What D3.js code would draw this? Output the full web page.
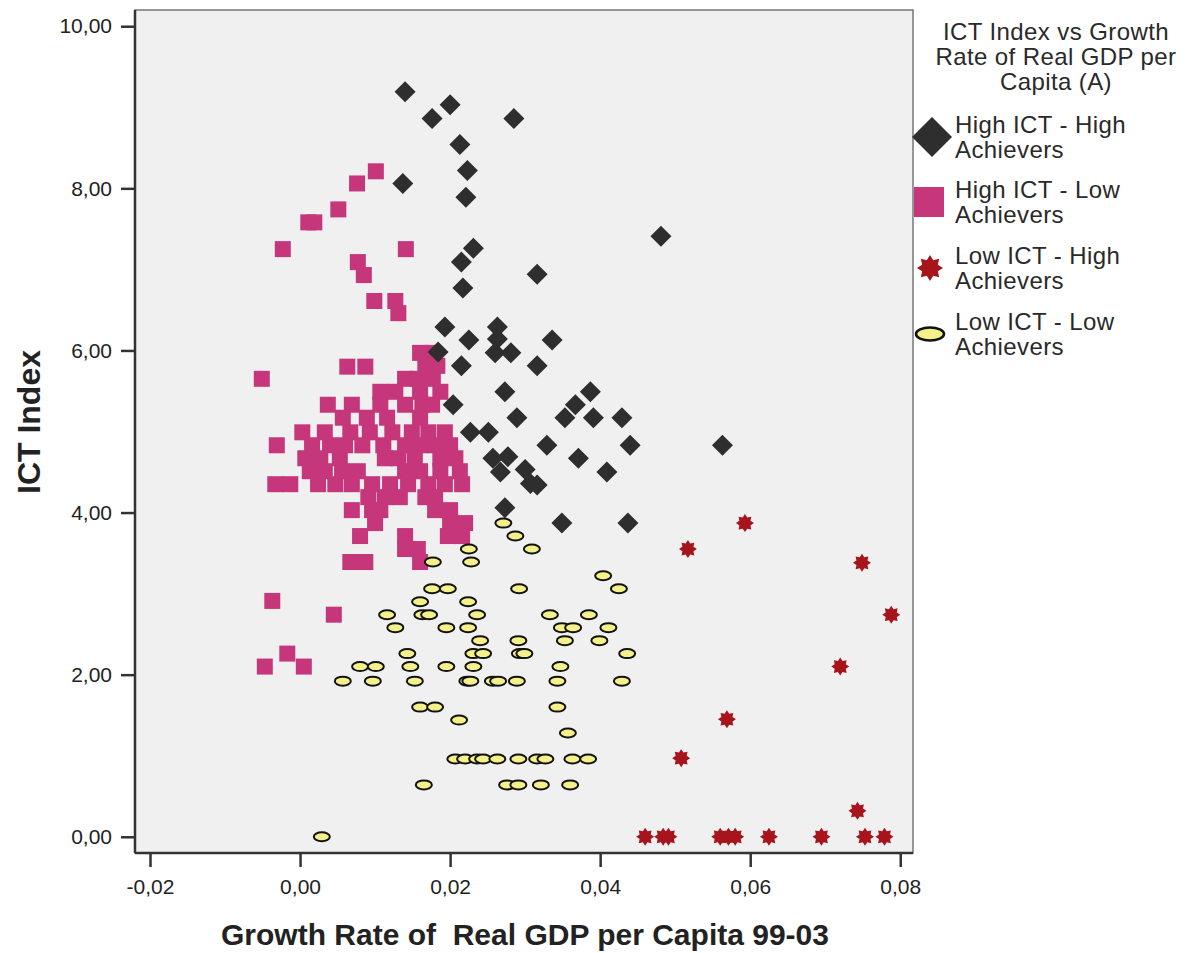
<!DOCTYPE html>
<html lang="en">
  <head>
    <meta charset="utf-8">
    <style>
      body { margin: 0; background: #fff; }
      text { font-family: "Liberation Sans", Arial, sans-serif; fill: #222; }
      .tick text { font-size: 21px; }
      .axis-title { font-weight: bold; font-size: 30px; }
      .legend text { font-size: 24px; fill: #2a2a2a; letter-spacing: 0.4px; }
    </style>
  </head>

  <body>
    <svg id="container" height="953" width="1190"></svg>
  </body>
  <script src="https://d3js.org/d3.v7.min.js"></script>
  <script>
// [growth rate, ICT index]
let highHigh = [
  [0.0140,9.19],[0.0200,9.03],[0.0176,8.86],[0.0285,8.86],[0.0213,8.54],[0.0223,8.22],
  [0.0137,8.06],[0.0221,7.89],[0.0481,7.41],[0.0231,7.26],[0.0215,7.09],[0.0316,6.94],
  [0.0217,6.77],[0.0193,6.29],[0.0263,6.29],[0.0263,6.14],[0.0225,6.13],[0.0336,6.13],
  [0.0260,5.97],[0.0281,5.97],[0.0184,5.98],[0.0215,5.81],[0.0316,5.81],[0.0273,5.49],
  [0.0387,5.49],[0.0204,5.33],[0.0367,5.33],[0.0289,5.17],[0.0353,5.17],[0.0391,5.17],
  [0.0429,5.17],[0.0227,4.99],[0.0251,4.99],[0.0329,4.83],[0.0440,4.83],[0.0563,4.83],
  [0.0257,4.67],[0.0277,4.69],[0.0371,4.67],[0.0267,4.50],[0.0300,4.53],[0.0307,4.36],
  [0.0316,4.34],[0.0409,4.50],[0.0273,4.06],[0.0349,3.87],[0.0437,3.87]
]

let highLow = [
  [0.0101,8.21],[0.0076,8.06],[0.0051,7.74],[0.0011,7.58],[0.0019,7.58],[-0.0023,7.25],
  [0.0141,7.25],[0.0077,7.09],[0.0085,6.93],[0.0099,6.61],[0.0127,6.61],[0.0131,6.46],
  [0.0063,5.80],[0.0087,5.80],[-0.0051,5.65],
  [0.0160,5.97],[0.0176,5.97],
  [0.0167,5.81],[0.0183,5.81],
  [0.0140,5.65],[0.0157,5.65],[0.0177,5.65],
  [0.0107,5.49],[0.0127,5.49],[0.0160,5.49],[0.0187,5.49],
  [0.0037,5.33],[0.0069,5.33],[0.0107,5.33],[0.0140,5.33],[0.0163,5.33],[0.0176,5.33],
  [0.0057,5.17],[0.0089,5.17],[0.0116,5.17],[0.0160,5.17],
  [0.0003,4.99],[0.0033,4.99],[0.0067,4.99],[0.0093,4.99],[0.0123,4.99],[0.0149,4.99],[0.0171,4.99],[0.0193,4.99],
  [-0.0031,4.83],[0.0016,4.83],[0.0040,4.83],[0.0060,4.83],[0.0083,4.83],[0.0111,4.83],[0.0140,4.83],[0.0160,4.83],[0.0180,4.83],[0.0200,4.83],
  [0.0007,4.67],[0.0027,4.67],[0.0053,4.67],[0.0113,4.67],[0.0131,4.67],[0.0153,4.67],[0.0187,4.67],[0.0207,4.67],
  [0.0013,4.51],[0.0033,4.51],[0.0056,4.51],[0.0077,4.51],[0.0140,4.51],[0.0160,4.51],[0.0187,4.51],[0.0213,4.51],
  [-0.0033,4.35],[-0.0013,4.35],[0.0024,4.35],[0.0047,4.35],[0.0069,4.35],[0.0096,4.35],[0.0120,4.35],[0.0144,4.35],[0.0171,4.35],[0.0193,4.35],[0.0216,4.35],
  [0.0091,4.19],[0.0113,4.19],[0.0133,4.19],[0.0167,4.19],[0.0180,4.19],
  [0.0069,4.03],[0.0096,4.03],[0.0107,4.03],[0.0180,4.03],[0.0200,4.03],
  [0.0100,3.87],[0.0200,3.87],[0.0220,3.87],
  [0.0080,3.71],[0.0140,3.71],[0.0197,3.71],[0.0216,3.71],
  [0.0140,3.55],[0.0157,3.55],
  [0.0067,3.39],[0.0087,3.39],[0.0160,3.39],
  [-0.0037,2.91],[0.0045,2.74],[-0.0017,2.26],[-0.0047,2.10],[0.0005,2.10]
]

let lowHigh = [
  [0.0593,3.87],[0.0517,3.55],[0.0749,3.38],[0.0788,2.74],[0.0720,2.10],[0.0569,1.45],
  [0.0508,0.97],[0.0743,0.32],[0.0460,0],[0.0484,0],[0.0491,0],[0.0560,0],[0.0571,0],
  [0.0580,0],[0.0625,0],[0.0695,0],[0.0753,0],[0.0779,0]
]

let lowLow = [
  [0.0271,3.87],[0.0287,3.71],[0.0225,3.55],[0.0309,3.55],[0.0177,3.39],[0.0228,3.39],
  [0.0404,3.22],[0.0176,3.06],[0.0197,3.06],[0.0292,3.06],[0.0425,3.06],[0.0160,2.90],
  [0.0224,2.90],[0.0116,2.74],[0.0163,2.74],[0.0172,2.74],[0.0236,2.74],[0.0333,2.74],
  [0.0385,2.74],[0.0127,2.58],[0.0195,2.58],[0.0224,2.58],[0.0349,2.58],[0.0364,2.58],
  [0.0411,2.58],[0.0240,2.42],[0.0291,2.42],[0.0353,2.42],[0.0399,2.42],[0.0143,2.26],
  [0.0231,2.26],[0.0244,2.26],[0.0293,2.26],[0.0299,2.26],[0.0436,2.26],[0.0080,2.10],
  [0.0101,2.10],[0.0147,2.10],[0.0195,2.10],[0.0231,2.10],[0.0347,2.10],[0.0057,1.92],
  [0.0097,1.92],[0.0153,1.92],[0.0223,1.92],[0.0227,1.92],[0.0257,1.92],[0.0264,1.92],
  [0.0289,1.92],[0.0343,1.92],[0.0429,1.92],[0.0160,1.60],[0.0180,1.60],[0.0343,1.60],
  [0.0212,1.44],[0.0357,1.28],
  [0.0207,0.96],[0.0220,0.96],[0.0236,0.96],[0.0244,0.96],[0.0263,0.96],[0.0291,0.96],
  [0.0316,0.96],[0.0327,0.96],[0.0363,0.96],[0.0384,0.96],
  [0.0165,0.64],[0.0276,0.64],[0.0291,0.64],[0.0321,0.64],[0.0360,0.64],
  [0.0029,0]
]

let xTicks = [-0.02, 0, 0.02, 0.04, 0.06, 0.08]
let yTicks = [0, 2, 4, 6, 8, 10]
let legendTitle = ["ICT Index vs Growth", "Rate of Real GDP per", "Capita (A)"]
let legendItems = [
  ["High ICT - High", "Achievers"],
  ["High ICT - Low", "Achievers"],
  ["Low ICT - High", "Achievers"],
  ["Low ICT - Low", "Achievers"]
]

let svg = d3.select("#container")
let plotLeft = 135, plotRight = 913, plotTop = 10, plotBottom = 853

let x = d3.scaleLinear().domain([-0.022, 0.0817]).range([plotLeft, plotRight])
let y = d3.scaleLinear().domain([-0.2, 10.2]).range([plotBottom, plotTop])

let fmt = d3.formatLocale({decimal: ",", thousands: ".", grouping: [3], currency: ["", ""], minus: "-"}).format(".2f")

svg.append("rect")
    .attr("x", plotLeft).attr("y", plotTop)
    .attr("width", plotRight - plotLeft).attr("height", plotBottom - plotTop)
    .attr("fill", "#f0f0f0")
    .attr("stroke", "#777")
    .attr("stroke-width", 1.5)

let xAxis = svg.append("g")
    .attr("transform", `translate(0,${plotBottom})`)
    .call(d3.axisBottom(x).tickValues(xTicks).tickFormat(fmt).tickSize(14).tickPadding(12).tickSizeOuter(0))
let yAxis = svg.append("g")
    .attr("transform", `translate(${plotLeft},0)`)
    .call(d3.axisLeft(y).tickValues(yTicks).tickFormat(fmt).tickSize(14).tickPadding(9).tickSizeOuter(0))

for (let ax of [xAxis, yAxis]) {
    ax.select(".domain").attr("stroke", "#333").attr("stroke-width", 2.5)
    ax.selectAll(".tick line").attr("stroke", "#333").attr("stroke-width", 2.5)
    ax.selectAll(".tick text").attr("fill", "#222")
}
xAxis.select(".domain").attr("d", `M${plotLeft},0H${plotRight}`)
yAxis.select(".domain").attr("d", `M0,${plotTop}V${plotBottom}`)

svg.append("text")
    .attr("class", "axis-title")
    .attr("x", 525).attr("y", 945)
    .attr("text-anchor", "middle")
    .text("Growth Rate of\u00a0 Real GDP per Capita 99-03")

svg.append("text")
    .attr("class", "axis-title")
    .attr("transform", "translate(40,422) rotate(-90)")
    .attr("text-anchor", "middle")
    .style("font-size", "32px")
    .text("ICT Index")

function starPath(R, r) {
    let pts = d3.range(16).map(i => [i * Math.PI / 8, i % 2 ? r : R])
    return d3.lineRadial().curve(d3.curveLinearClosed)(pts)
}

let pink = "#c6367b", dark = "#2e2e2e", red = "#a8141c", yellow = "#f4f08a"

let marks = svg.append("g")

marks.append("g").selectAll("rect")
    .data(highLow).enter().append("rect")
        .attr("x", d => x(d[0]) - 8).attr("y", d => y(d[1]) - 8)
        .attr("width", 16).attr("height", 16)
        .attr("fill", pink)

marks.append("g").selectAll("path")
    .data(highHigh).enter().append("path")
        .attr("d", "M0,-10.5L10.5,0L0,10.5L-10.5,0Z")
        .attr("transform", d => `translate(${x(d[0])},${y(d[1])})`)
        .attr("fill", dark)

marks.append("g").selectAll("path")
    .data(lowHigh).enter().append("path")
        .attr("d", starPath(9, 6))
        .attr("transform", d => `translate(${x(d[0])},${y(d[1])})`)
        .attr("fill", red)

marks.append("g").selectAll("ellipse")
    .data(lowLow).enter().append("ellipse")
        .attr("cx", d => x(d[0])).attr("cy", d => y(d[1]))
        .attr("rx", 8).attr("ry", 4.5)
        .attr("fill", yellow)
        .attr("stroke", "#111")
        .attr("stroke-width", 2)

let legend = svg.append("g").attr("class", "legend")

legend.selectAll(".ltitle")
    .data(legendTitle).enter().append("text")
        .attr("x", 1056).attr("y", (d, i) => 32 + i * 25)
        .attr("dy", "0.35em")
        .attr("text-anchor", "middle")
        .text(d => d)

let itemY = [137, 202, 268, 334]
legendItems.forEach((lines, i) => {
    lines.forEach((t, j) => {
        legend.append("text")
            .attr("x", 955).attr("y", itemY[i] - 12 + j * 25)
            .attr("dy", "0.35em")
            .text(t)
    })
})

legend.append("path")
    .attr("d", "M0,-20L20,0L0,20L-20,0Z")
    .attr("transform", `translate(932,${itemY[0]})`)
    .attr("fill", dark)
legend.append("rect")
    .attr("x", 914).attr("y", itemY[1] - 15)
    .attr("width", 30).attr("height", 30)
    .attr("fill", pink)
legend.append("path")
    .attr("d", starPath(13, 8.5))
    .attr("transform", `translate(930,${itemY[2]})`)
    .attr("fill", red)
legend.append("ellipse")
    .attr("cx", 930).attr("cy", itemY[3])
    .attr("rx", 14).attr("ry", 6.5)
    .attr("fill", yellow)
    .attr("stroke", "#111")
    .attr("stroke-width", 2.5)
  </script>
</html>
